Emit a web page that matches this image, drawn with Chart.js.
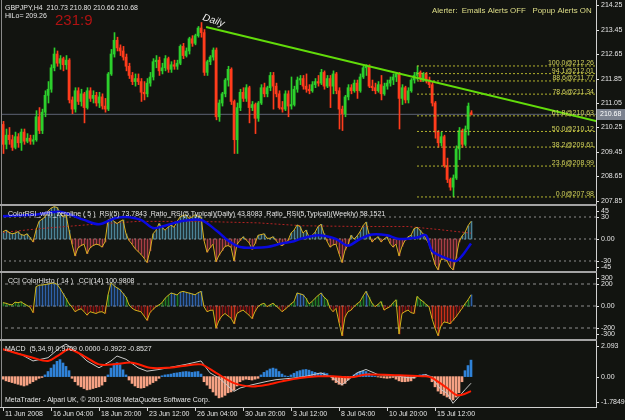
<!DOCTYPE html>
<html>
<head>
<meta charset="utf-8">
<script src="https://cdn.jsdelivr.net/npm/chart.js@4.4.1/dist/chart.umd.min.js"></script>
<style>
html, body { margin: 0; padding: 0; background: #121410; }
#wrap { position: relative; width: 625px; height: 420px; overflow: hidden; background: #121410; }
canvas { position: absolute; left: 0; }
.line { position: absolute; }
</style>
</head>
<body>
<div id="wrap">
    <canvas id="mainChart" width="625" height="206" style="top:0"></canvas>
    <canvas id="rsiChart" width="625" height="67" style="top:206px"></canvas>
    <canvas id="cciChart" width="625" height="68" style="top:273px"></canvas>
    <canvas id="macdChart" width="625" height="79" style="top:341px"></canvas>
    <div class="line" style="left:1px;top:0;width:1px;height:408px;background:#8a8a8a"></div>
    <div class="line" style="left:596px;top:0;width:1px;height:408px;background:#d0d0d0"></div>
    <div class="line" style="left:0;top:407px;width:597px;height:1px;background:#d0d0d0"></div>
    <div class="line" style="left:0;top:204px;width:597px;height:2px;background:#a4a4a4"></div>
    <div class="line" style="left:0;top:271px;width:597px;height:2px;background:#a4a4a4"></div>
    <div class="line" style="left:0;top:339px;width:597px;height:2px;background:#a4a4a4"></div>
</div>
<script>
/* global Chart */

// GBPJPY H4 candles
const openPrices = [
    210.35,209.70,210.00,209.85,209.60,209.95,209.75,210.10,209.80,209.90,
    209.80,209.85,210.60,210.15,210.75,211.30,211.50,212.20,212.65,212.35,
    212.50,212.30,212.45,211.15,210.85,211.45,211.10,211.35,210.90,211.45,
    211.20,211.30,211.05,211.25,210.95,210.85,212.00,212.65,213.10,212.85,
    212.75,212.55,212.25,211.95,211.75,211.85,211.75,211.40,211.35,211.70,
    211.90,212.40,212.45,212.10,212.20,212.50,212.15,212.30,212.25,212.35,
    212.90,212.60,212.75,213.15,213.00,213.25,213.50,213.35,212.05,212.40,
    212.55,212.78,210.60,211.05,211.35,211.80,212.15,211.10,209.85,210.90,
    211.40,211.20,211.55,210.90,211.00,210.55,211.05,211.55,211.35,211.55,
    211.95,211.60,211.35,210.90,210.85,211.35,210.95,211.00,211.50,211.80,
    211.85,211.60,211.50,211.45,211.65,211.75,211.70,212.05,211.60,211.85,
    211.60,212.00,211.45,210.85,210.70,211.25,211.55,211.45,211.70,211.45,
    211.90,212.20,212.25,211.60,211.55,211.45,211.65,211.35,211.60,211.70,
    211.80,211.90,212.00,211.20,211.55,211.15,211.45,211.80,211.95,212.05,
    211.85,212.00,211.80,211.65,211.05,210.10,209.75,209.95,209.00,208.55,
    208.30,208.60,209.55,210.15,209.70,210.20,210.73
];
const highPrices = [
    210.45,210.20,210.25,210.00,210.10,210.05,210.20,210.20,210.05,210.00,
    210.00,210.80,210.90,210.85,211.45,211.75,212.30,212.85,212.75,212.60,
    212.55,212.60,212.50,211.25,211.55,211.55,211.50,211.40,211.55,211.55,
    211.45,211.40,211.40,211.35,211.20,212.05,212.80,213.35,213.20,212.95,
    212.90,212.65,212.35,212.05,212.00,212.00,211.85,211.75,211.85,212.05,
    212.50,212.60,212.55,212.35,212.60,212.55,212.40,212.45,212.45,212.95,
    213.00,212.85,213.20,213.25,213.30,213.55,213.68,213.45,212.45,212.60,
    212.85,212.85,211.15,211.40,211.85,212.25,212.20,211.15,211.05,211.50,
    211.55,211.65,211.60,211.10,211.05,211.10,211.65,211.70,211.60,212.05,
    212.05,211.70,211.45,211.10,211.45,211.45,211.90,211.60,211.90,211.95,
    211.95,212.00,211.65,211.75,211.85,211.95,212.15,212.10,211.95,211.95,
    212.10,212.05,211.55,210.95,211.30,211.65,211.65,211.80,211.80,212.00,
    212.25,212.30,212.30,211.80,211.70,211.75,211.95,211.70,211.80,211.90,
    212.00,212.05,212.05,211.65,211.60,211.55,211.85,212.05,212.26,212.10,
    212.05,212.05,211.90,211.75,211.10,210.15,210.10,210.00,209.25,208.60,
    208.70,209.65,210.25,210.20,210.30,211.05,210.80
];
const lowPrices = [
    209.40,209.55,209.70,209.50,209.55,209.60,209.50,209.70,209.75,209.70,
    209.70,209.80,210.05,210.05,210.60,211.05,211.40,212.10,212.25,212.15,
    212.10,212.15,211.05,210.70,210.75,211.00,210.95,210.40,210.85,211.10,
    211.05,210.95,210.90,210.85,210.75,210.80,211.95,212.55,212.75,212.60,
    212.45,212.10,211.85,211.65,211.60,211.65,211.10,211.15,211.25,211.60,
    211.80,212.20,211.95,212.00,212.10,212.05,212.05,212.15,212.15,212.30,
    212.50,212.55,212.65,212.90,212.95,213.20,213.20,211.95,211.95,212.30,
    212.45,210.50,210.45,210.95,211.25,211.60,211.00,209.40,209.40,210.80,
    211.10,211.10,210.40,210.80,210.05,210.45,211.00,211.25,211.25,211.45,
    210.85,211.25,210.85,210.75,210.80,210.60,210.85,210.95,211.40,211.65,
    211.50,211.40,211.35,211.40,211.55,211.60,211.65,211.50,211.55,210.90,
    211.35,211.35,210.20,210.15,210.60,211.15,211.35,211.40,211.20,211.40,
    211.85,211.95,211.55,211.45,211.35,211.40,211.15,211.30,211.50,211.60,
    211.65,211.75,210.20,211.00,211.05,211.05,211.40,211.70,211.80,211.75,
    211.75,211.70,211.55,210.95,209.90,209.60,209.65,208.95,208.45,208.20,
    207.98,208.55,209.20,209.60,209.65,210.00,210.66
];
const closePrices = [
    209.70,210.00,209.85,209.60,209.95,209.75,210.10,209.80,209.90,209.80,
    209.85,210.60,210.15,210.75,211.30,211.50,212.20,212.65,212.35,212.50,
    212.30,212.45,211.15,210.85,211.45,211.10,211.35,210.90,211.45,211.20,
    211.30,211.05,211.25,210.95,210.85,212.00,212.65,213.10,212.85,212.75,
    212.55,212.25,211.95,211.75,211.85,211.75,211.40,211.35,211.70,211.90,
    212.40,212.45,212.10,212.20,212.50,212.15,212.30,212.25,212.35,212.90,
    212.60,212.75,213.15,213.00,213.25,213.50,213.35,212.05,212.40,212.55,
    212.78,210.60,211.05,211.35,211.80,212.15,211.10,209.85,210.90,211.40,
    211.20,211.55,210.90,211.00,210.55,211.05,211.55,211.35,211.55,211.95,
    211.60,211.35,210.90,210.85,211.35,210.95,211.00,211.50,211.80,211.85,
    211.60,211.50,211.45,211.65,211.75,211.70,212.05,211.60,211.85,211.60,
    212.00,211.45,210.85,210.70,211.25,211.55,211.45,211.70,211.45,211.90,
    212.20,212.25,211.60,211.55,211.45,211.65,211.35,211.60,211.70,211.80,
    211.90,212.00,211.20,211.55,211.15,211.45,211.80,211.95,212.05,211.85,
    212.00,211.80,211.65,211.05,210.10,209.75,209.95,209.00,208.55,208.30,
    208.60,209.55,210.15,209.70,210.20,210.95,210.68
];

// trendline drawn from the 26 Jun high (bar index, price)
const trendBars = [67.7, 197.7];
const trendPrices = [213.53, 210.46];

// fibonacci retracement
const fibStartBar = 138;
const fibPercents = [100.0, 94.1, 88.6, 78.6, 61.8, 50.0, 38.2, 23.6, 0.0];
const fibLevels = [212.26, 212.01, 211.77, 211.34, 210.63, 210.12, 209.61, 208.99, 207.98];

// ColorRSI (RSI - 50)
const rsiValues = [
    10,12,9,7,8,10,6,5,7,2,
    -4,12,24,27,30,38,42,44,43,36,
    30,33,12,-7,-23,-12,-9,-7,-20,-12,
    -9,-7,-8,-11,-4,26,28,24,21,24,
    26,7,-2,-7,-13,-17,-21,-26,-32,-16,
    7,12,21,16,12,16,19,16,24,30,
    32,33,28,30,33,31,30,-2,-18,-12,
    -7,-31,-22,-16,-10,-9,-11,-30,-7,-2,
    3,-1,-5,-14,-6,5,6,7,1,1,
    3,-2,-7,-9,-6,-2,8,12,19,17,
    8,12,3,5,9,17,20,7,-3,-11,
    -8,-7,-20,-32,-15,-8,5,0,4,10,
    18,23,7,-4,0,3,-4,0,3,-6,
    -11,-7,-23,-10,-2,3,5,14,16,12,
    7,0,-7,-21,-35,-42,-28,-27,-30,-38,
    -42,-26,-4,4,9,18,24
];
const rsiDailyBars = [0,10,19,27,32,37,41,46,50,53,59,66,71,75,79,84,88,93,97,99,105,111,115,119,123,128,132,138,141,143,147,151,153,156];
const rsiDailyValues = [31,33,37,26,20,28,30,26,15,17,24,26,12,-2,-11,-12,-11,-6,-3,0,5,0,-9,0,6,5,0,2,5,-16,-25,-30,-23,-6];
const rsiWeeklyBars = [0,12,30,45,65,85,100,120,135,145,156];
const rsiWeeklyValues = [9,14,20,24,24,22,18,17,17,13,8];
const rsiLevels = [30, 0, -30];

// CCI(14)
const cciValues = [
    30,25,15,10,35,30,38,20,5,-10,
    -60,175,190,190,195,200,205,210,198,160,
    115,70,20,-10,-52,-35,-25,-50,-83,-52,
    -60,-68,-55,-52,-68,100,211,185,165,149,
    115,80,10,-20,-37,-45,-52,-90,-130,-60,
    -30,-6,10,30,70,95,118,110,100,125,
    133,125,118,110,102,120,133,-6,-52,-40,
    -37,-200,-130,-90,-68,-90,-110,-161,-68,-50,
    -37,-60,-83,-114,-50,-6,15,25,-6,10,
    25,0,-22,-52,-30,-6,20,40,118,110,
    102,70,20,40,70,95,118,80,56,-20,
    -52,-22,-150,-270,-100,-52,-37,-6,20,40,
    90,133,80,25,-6,15,40,-37,-20,-6,
    30,56,-254,-68,-50,-37,-60,-68,87,60,
    40,15,-6,-114,-200,-270,-180,-145,-150,-161,
    -130,-99,-60,-22,20,56,101
];
const cciLevels = [200, 0, -200];

// MACD(5,34,9)
const macdHist = [
    -0.15,-0.25,-0.3,-0.35,-0.4,-0.45,-0.5,-0.55,-0.5,-0.4,
    -0.3,-0.2,-0.1,-0.05,0.1,0.3,0.5,0.7,0.9,1.0,
    0.8,0.6,0.35,-0.1,-0.3,-0.5,-0.6,-0.7,-0.78,-0.75,
    -0.7,-0.65,-0.6,-0.5,-0.3,0.1,0.5,0.75,0.82,0.7,
    0.4,0.1,-0.2,-0.4,-0.55,-0.65,-0.68,-0.65,-0.55,-0.45,
    -0.35,-0.25,-0.1,0.05,0.1,0.12,0.15,0.2,0.22,0.25,
    0.28,0.3,0.28,0.25,0.28,0.3,0.15,-0.3,-0.5,-0.7,
    -0.9,-1.1,-1.25,-1.2,-1.1,-0.95,-0.9,-0.8,-0.55,-0.3,
    -0.2,-0.15,-0.18,-0.2,-0.15,-0.1,0.1,0.25,0.35,0.45,
    0.5,0.45,0.3,0.15,0.05,0.02,0.1,0.2,0.3,0.35,
    0.4,0.42,0.38,0.3,0.25,0.2,0.2,0.22,0.18,0.05,
    -0.2,-0.35,-0.45,-0.5,-0.4,-0.2,-0.05,0.1,0.2,0.3,
    0.32,0.3,0.2,0.05,0.02,-0.02,-0.05,-0.08,-0.1,-0.08,
    -0.05,-0.15,-0.25,-0.3,-0.3,-0.28,-0.25,-0.1,0.05,0.1,
    0.12,0.1,0.05,-0.3,-0.6,-0.85,-1.0,-1.1,-1.2,-1.3,
    -1.37,-1.2,-0.95,-0.3,0.35,0.65,0.97
];
const macdWhiteBars = [0,6,10,15,19,21,25,28,32,36,38,41,45,48,52,58,61,66,69,72,77,79,83,88,91,97,101,106,110,113,118,121,125,132,136,141,143,146,148,150,152,154,156];
const macdWhiteValues = [1.61,1.31,0.92,1.11,1.71,1.91,1.41,0.92,0.52,0.92,1.21,1.02,0.52,0.32,0.42,0.62,0.72,0.92,0.22,-0.08,-0.87,-0.67,-0.48,-0.28,-0.18,-0.08,0.02,0.22,-0.08,-0.48,0.22,0.42,0.12,0.02,-0.08,0.12,-0.08,-0.77,-0.97,-1.57,-1.17,-0.77,-0.39];
const macdRedBars = [0,10,15,19,22,27,32,37,43,49,55,60,66,71,77,83,88,93,99,105,110,116,121,132,141,143,148,151,153,156];
const macdRedValues = [1.61,1.11,0.92,1.31,1.61,1.21,0.72,0.72,0.82,0.52,0.52,0.62,0.72,0.22,-0.38,-0.58,-0.48,-0.28,-0.08,0.02,0.02,-0.04,0.12,0.08,0.02,-0.08,-0.67,-1.07,-1.07,-0.85];

// axis ticks
const priceTicks = [214.25, 213.45, 212.65, 211.85, 211.05, 210.25, 209.45, 208.65, 207.85];
const rsiTicks = [45, 30, 0, -30, -45];
const rsiTickLabels = ["45", "30", "0.00", "-30", "-45"];
const cciTicks = [300, 200, 0, -200, -300];
const cciTickLabels = ["300", "200", "0.00", "-200", "-300"];
const macdTicks = [2.093, 0, -1.7849];
const macdTickLabels = ["2.093", "0.00", "-1.7849"];
const timeTickBars = [0, 16, 32, 48, 64, 80, 96, 112, 128, 144];
const timeTickLabels = ["11 Jun 2008", "16 Jun 04:00", "18 Jun 20:00", "23 Jun 12:00", "26 Jun 04:00",
    "30 Jun 20:00", "3 Jul 12:00", "8 Jul 04:00", "10 Jul 20:00", "15 Jul 12:00"];

const FONT = "7px 'Liberation Sans', Arial, sans-serif";
const TEXT = "#e4e4e4";
const X_MIN = -1 / 3;
const X_MAX = X_MIN + 198;

const barIndex = closePrices.map((c, i) => i);
const lastClose = closePrices[closePrices.length - 1];

function pts(xs, ys)
{
    return xs.map((x, k) => ({ x: x, y: ys[k] }));
}

function flatLine(value, from)
{
    return [{ x: from, y: value }, { x: X_MAX + 1, y: value }];
}

function rightAxis(chart, ticks, labels)
{
    const ctx = chart.ctx;
    const y = chart.scales.y;
    const right = chart.chartArea.right;
    ctx.save();
    ctx.font = FONT;
    ctx.fillStyle = TEXT;
    ctx.textAlign = "left";
    ctx.textBaseline = "middle";
    ticks.forEach((v, k) => {
        let py = Math.round(y.getPixelForValue(v));
        // keep the outer labels inside their window
        if (v >= y.max) py += 5;
        if (v <= y.min) py -= 5;
        ctx.fillRect(right, py, 3, 1);
        ctx.fillText(labels[k], right + 5, py);
    });
    ctx.restore();
}

function text(ctx, str, x, y, color, font)
{
    ctx.font = font || FONT;
    ctx.fillStyle = color || TEXT;
    ctx.textAlign = "left";
    ctx.textBaseline = "middle";
    ctx.fillText(str, x, y);
}

function makePanel(id, padTop, padBottom, yMin, yMax, datasets, drawExtra)
{
    return new Chart(document.getElementById(id), {
        type: "bar",
        data: { datasets: datasets },
        options: {
            responsive: false,
            animation: false,
            devicePixelRatio: 1,
            events: [],
            layout: { padding: { left: 2, right: 29, top: padTop, bottom: padBottom } },
            scales: {
                x: { type: "linear", min: X_MIN, max: X_MAX, offset: false, display: false },
                // half-pixel shifted axis so 1px wide bars land on whole pixels
                xw: { type: "linear", min: X_MIN - 1 / 6, max: X_MAX - 1 / 6, offset: false, display: false },
                y: { min: yMin, max: yMax, display: false }
            },
            plugins: { legend: { display: false }, tooltip: { enabled: false } }
        },
        plugins: [{ id: id + "Extra", afterDraw: drawExtra }]
    });
}

// ---------- main price window ----------
const upColor = "#2ccf2c";
const downColor = "#ff3c1c";
const candleColor = barIndex.map(i => closePrices[i] >= openPrices[i] ? upColor : downColor);

const fibSets = fibLevels.map(level => ({
    type: "line",
    data: flatLine(level, fibStartBar),
    borderColor: "#b2b22e",
    borderWidth: 1,
    borderDash: [2, 2],
    pointRadius: 0,
    order: 6
}));

makePanel("mainChart", 2, 2, 207.75, 214.35, [
    {
        type: "line",
        data: flatLine(lastClose, X_MIN - 1),
        borderColor: "#5d6373",
        borderWidth: 1,
        pointRadius: 0,
        order: 9
    },
    {
        type: "bar",
        xAxisID: "xw",
        data: barIndex.map(i => ({ x: i, y: [lowPrices[i], highPrices[i]] })),
        backgroundColor: candleColor,
        barThickness: 1,
        grouped: false,
        order: 8
    },
    {
        type: "bar",
        data: barIndex.map(i => ({ x: i, y: [openPrices[i], closePrices[i]] })),
        backgroundColor: candleColor,
        barThickness: 2,
        minBarLength: 1,
        grouped: false,
        order: 7
    },
    ...fibSets,
    {
        type: "line",
        data: pts(trendBars, trendPrices),
        borderColor: "#62dc0a",
        borderWidth: 2,
        pointRadius: 0,
        order: 1
    }
], function (chart) {
    const ctx = chart.ctx;
    const y = chart.scales.y;
    ctx.save();
    rightAxis(chart, priceTicks, priceTicks.map(v => v.toFixed(2)));

    // fibo labels
    ctx.font = FONT;
    ctx.fillStyle = "#d2d25c";
    ctx.textAlign = "right";
    ctx.textBaseline = "bottom";
    fibLevels.forEach((level, k) => {
        ctx.fillText(fibPercents[k].toFixed(1) + "@" + level.toFixed(2), 594, y.getPixelForValue(level) + 1);
    });

    // bid price tag
    const py = Math.round(y.getPixelForValue(lastClose));
    ctx.fillStyle = "#7c828f";
    ctx.fillRect(597, py - 5, 28, 11);
    text(ctx, lastClose.toFixed(2), 600, py, "#ffffff");

    text(ctx, "GBPJPY,H4  210.73 210.80 210.66 210.68", 5, 8);
    text(ctx, "HiLo= 209.26", 5, 16);
    text(ctx, "231:9", 55, 21, "#b01212", "15px 'Liberation Sans', Arial, sans-serif");
    text(ctx, "Alerter:  Emails Alerts OFF   Popup Alerts ON", 432, 11, "#dede88", "7.9px 'Liberation Sans', Arial, sans-serif");

    ctx.save();
    ctx.translate(203, 17);
    ctx.rotate(0.33);
    text(ctx, "Daily", 0, 0, "#f0f0f0", "italic 10px 'Liberation Sans', Arial, sans-serif");
    ctx.restore();
    ctx.restore();
});

// ---------- ColorRSI window ----------
makePanel("rsiChart", 0, 1, -45, 45, [
    ...rsiLevels.map(v => ({
        type: "line",
        data: flatLine(v, X_MIN - 1),
        borderColor: "#8e8e8e",
        borderWidth: 1,
        borderDash: [2, 3],
        pointRadius: 0,
        order: 9
    })),
    {
        type: "bar",
        xAxisID: "xw",
        data: barIndex.map(i => ({ x: i, y: rsiValues[i] })),
        backgroundColor: rsiValues.map(v => v >= 0 ? "rgba(96,168,196,0.75)" : "rgba(206,72,84,0.8)"),
        barThickness: 1,
        grouped: false,
        order: 8
    },
    {
        type: "line",
        data: pts(rsiWeeklyBars, rsiWeeklyValues),
        borderColor: "#b42424",
        borderWidth: 1,
        borderDash: [2, 2],
        pointRadius: 0,
        order: 5
    },
    {
        type: "line",
        data: pts(barIndex, rsiValues),
        borderColor: "#d8b020",
        borderWidth: 1,
        pointRadius: 0,
        order: 3
    },
    {
        type: "line",
        data: pts(rsiDailyBars, rsiDailyValues),
        borderColor: "#0a0ae0",
        borderWidth: 2.5,
        tension: 0.3,
        pointRadius: 0,
        order: 1
    }
], function (chart) {
    rightAxis(chart, rsiTicks, rsiTickLabels);
    text(chart.ctx, "ColorRSI_with_zeroline ( 5 )  RSI(5) 73.7843  Ratio_RSI(5,Typical)(Daily) 43.8083  Ratio_RSI(5,Typical)(Weekly) 58.1521", 8, 8);
});

// ---------- CCI window ----------
function cciColor(v)
{
    if (v > 100) return "rgba(52,110,196,0.85)";
    if (v >= 0) return "rgba(34,140,44,0.85)";
    if (v < -100) return "rgba(236,52,28,0.85)";
    return "rgba(150,18,18,0.9)";
}

makePanel("cciChart", 0, 2, -300, 300, [
    ...cciLevels.map(v => ({
        type: "line",
        data: flatLine(v, X_MIN - 1),
        borderColor: "#8e8e8e",
        borderWidth: 1,
        borderDash: [3, 3],
        pointRadius: 0,
        order: 9
    })),
    {
        type: "bar",
        xAxisID: "xw",
        data: barIndex.map(i => ({ x: i, y: cciValues[i] })),
        backgroundColor: cciValues.map(cciColor),
        barThickness: 1,
        grouped: false,
        order: 8
    },
    {
        type: "line",
        data: pts(barIndex, cciValues),
        borderColor: "#ccb41c",
        borderWidth: 1,
        pointRadius: 0,
        order: 2
    }
], function (chart) {
    rightAxis(chart, cciTicks, cciTickLabels);
    text(chart.ctx, "CCI ColorHisto ( 14 )   CCI(14) 100.9808", 8, 8);
});

// ---------- MACD window ----------
makePanel("macdChart", 0, 13, -1.7849, 2.093, [
    {
        type: "bar",
        data: barIndex.map(i => ({ x: i, y: macdHist[i] })),
        backgroundColor: macdHist.map(v => v >= 0 ? "#2f82d8" : "#f6a284"),
        barThickness: 2,
        grouped: false,
        order: 8
    },
    {
        type: "line",
        data: pts(macdWhiteBars, macdWhiteValues),
        borderColor: "#c8c8c8",
        borderWidth: 1,
        pointRadius: 0,
        order: 3
    },
    {
        type: "line",
        data: pts(macdRedBars, macdRedValues),
        borderColor: "#ff1c00",
        borderWidth: 2,
        tension: 0.3,
        pointRadius: 0,
        order: 2
    }
], function (chart) {
    const ctx = chart.ctx;
    const x = chart.scales.x;
    rightAxis(chart, macdTicks, macdTickLabels);
    text(ctx, "MACD  (5,34,9) 0.9709 0.0000 -0.3922 -0.8527", 5, 8);
    text(ctx, "MetaTrader - Alpari UK, \u00a9 2001-2008 MetaQuotes Software Corp.", 5, 59);

    // time axis
    ctx.save();
    ctx.fillStyle = "#d0d0d0";
    timeTickBars.forEach((bar, k) => {
        const px = Math.round(x.getPixelForValue(bar));
        ctx.fillRect(px, 66, 1, 4);
        text(ctx, timeTickLabels[k], px + 2, 73);
        ctx.fillStyle = "#d0d0d0";
    });
    ctx.restore();
});
</script>
</body>
</html>
